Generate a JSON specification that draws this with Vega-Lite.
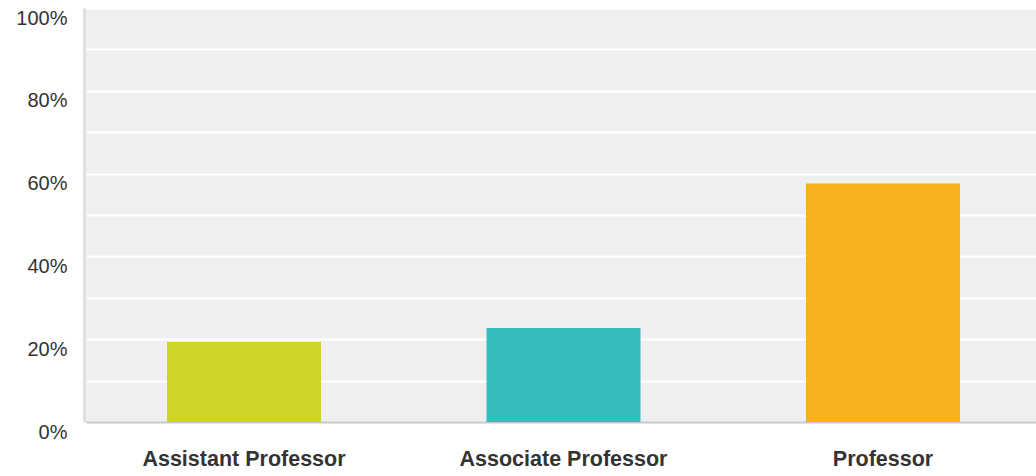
{
  "$schema": "https://vega.github.io/schema/vega-lite/v6.json",
  "autosize": {"type": "none"},
  "padding": {"left": 86, "top": 8, "right": 0, "bottom": 54},
  "width": 950,
  "height": 414,
  "background": "#ffffff",
  "config": {
    "view": {"fill": "#efefef", "stroke": null},
    "font": "Liberation Sans"
  },
  "data": {
    "values": [
      {"role": "Assistant Professor", "share": 0.193},
      {"role": "Associate Professor", "share": 0.227},
      {"role": "Professor", "share": 0.576}
    ]
  },
  "mark": {"type": "bar"},
  "encoding": {
    "x": {
      "field": "role",
      "type": "nominal",
      "sort": null,
      "title": null,
      "scale": {"paddingInner": 0.518, "paddingOuter": 0.2535, "range": [0, 955]},
      "axis": {
        "labelAngle": 0,
        "labelFont": "Liberation Sans",
        "labelFontSize": 21.5,
        "labelFontWeight": "bold",
        "labelColor": "#333333",
        "labelPadding": 26,
        "labelLimit": 0,
        "ticks": false,
        "tickSize": 0,
        "domainColor": "#c8c8c8",
        "domainWidth": 2,
        "grid": false
      }
    },
    "y": {
      "field": "share",
      "type": "quantitative",
      "title": null,
      "scale": {"domain": [0, 1], "nice": false},
      "axis": {
        "values": [0, 0.1, 0.2, 0.3, 0.4, 0.5, 0.6, 0.7, 0.8, 0.9, 1],
        "labelExpr": "round(datum.value * 10) % 2 == 0 ? round(datum.value * 100) + '%' : ''",
        "labelFont": "Liberation Sans",
        "labelFontSize": 20,
        "labelColor": "#333333",
        "labelOffset": 10,
        "labelPadding": 17,
        "ticks": false,
        "tickSize": 0,
        "offset": 2,
        "domainColor": "#e0e0e0",
        "domainWidth": 3,
        "grid": true,
        "gridColor": "#ffffff",
        "gridWidth": 2,
        "gridOpacity": 1
      }
    },
    "color": {
      "field": "role",
      "type": "nominal",
      "legend": null,
      "scale": {
        "domain": ["Assistant Professor", "Associate Professor", "Professor"],
        "range": ["#cfd42a", "#33bdbe", "#f7b01f"]
      }
    }
  }
}
